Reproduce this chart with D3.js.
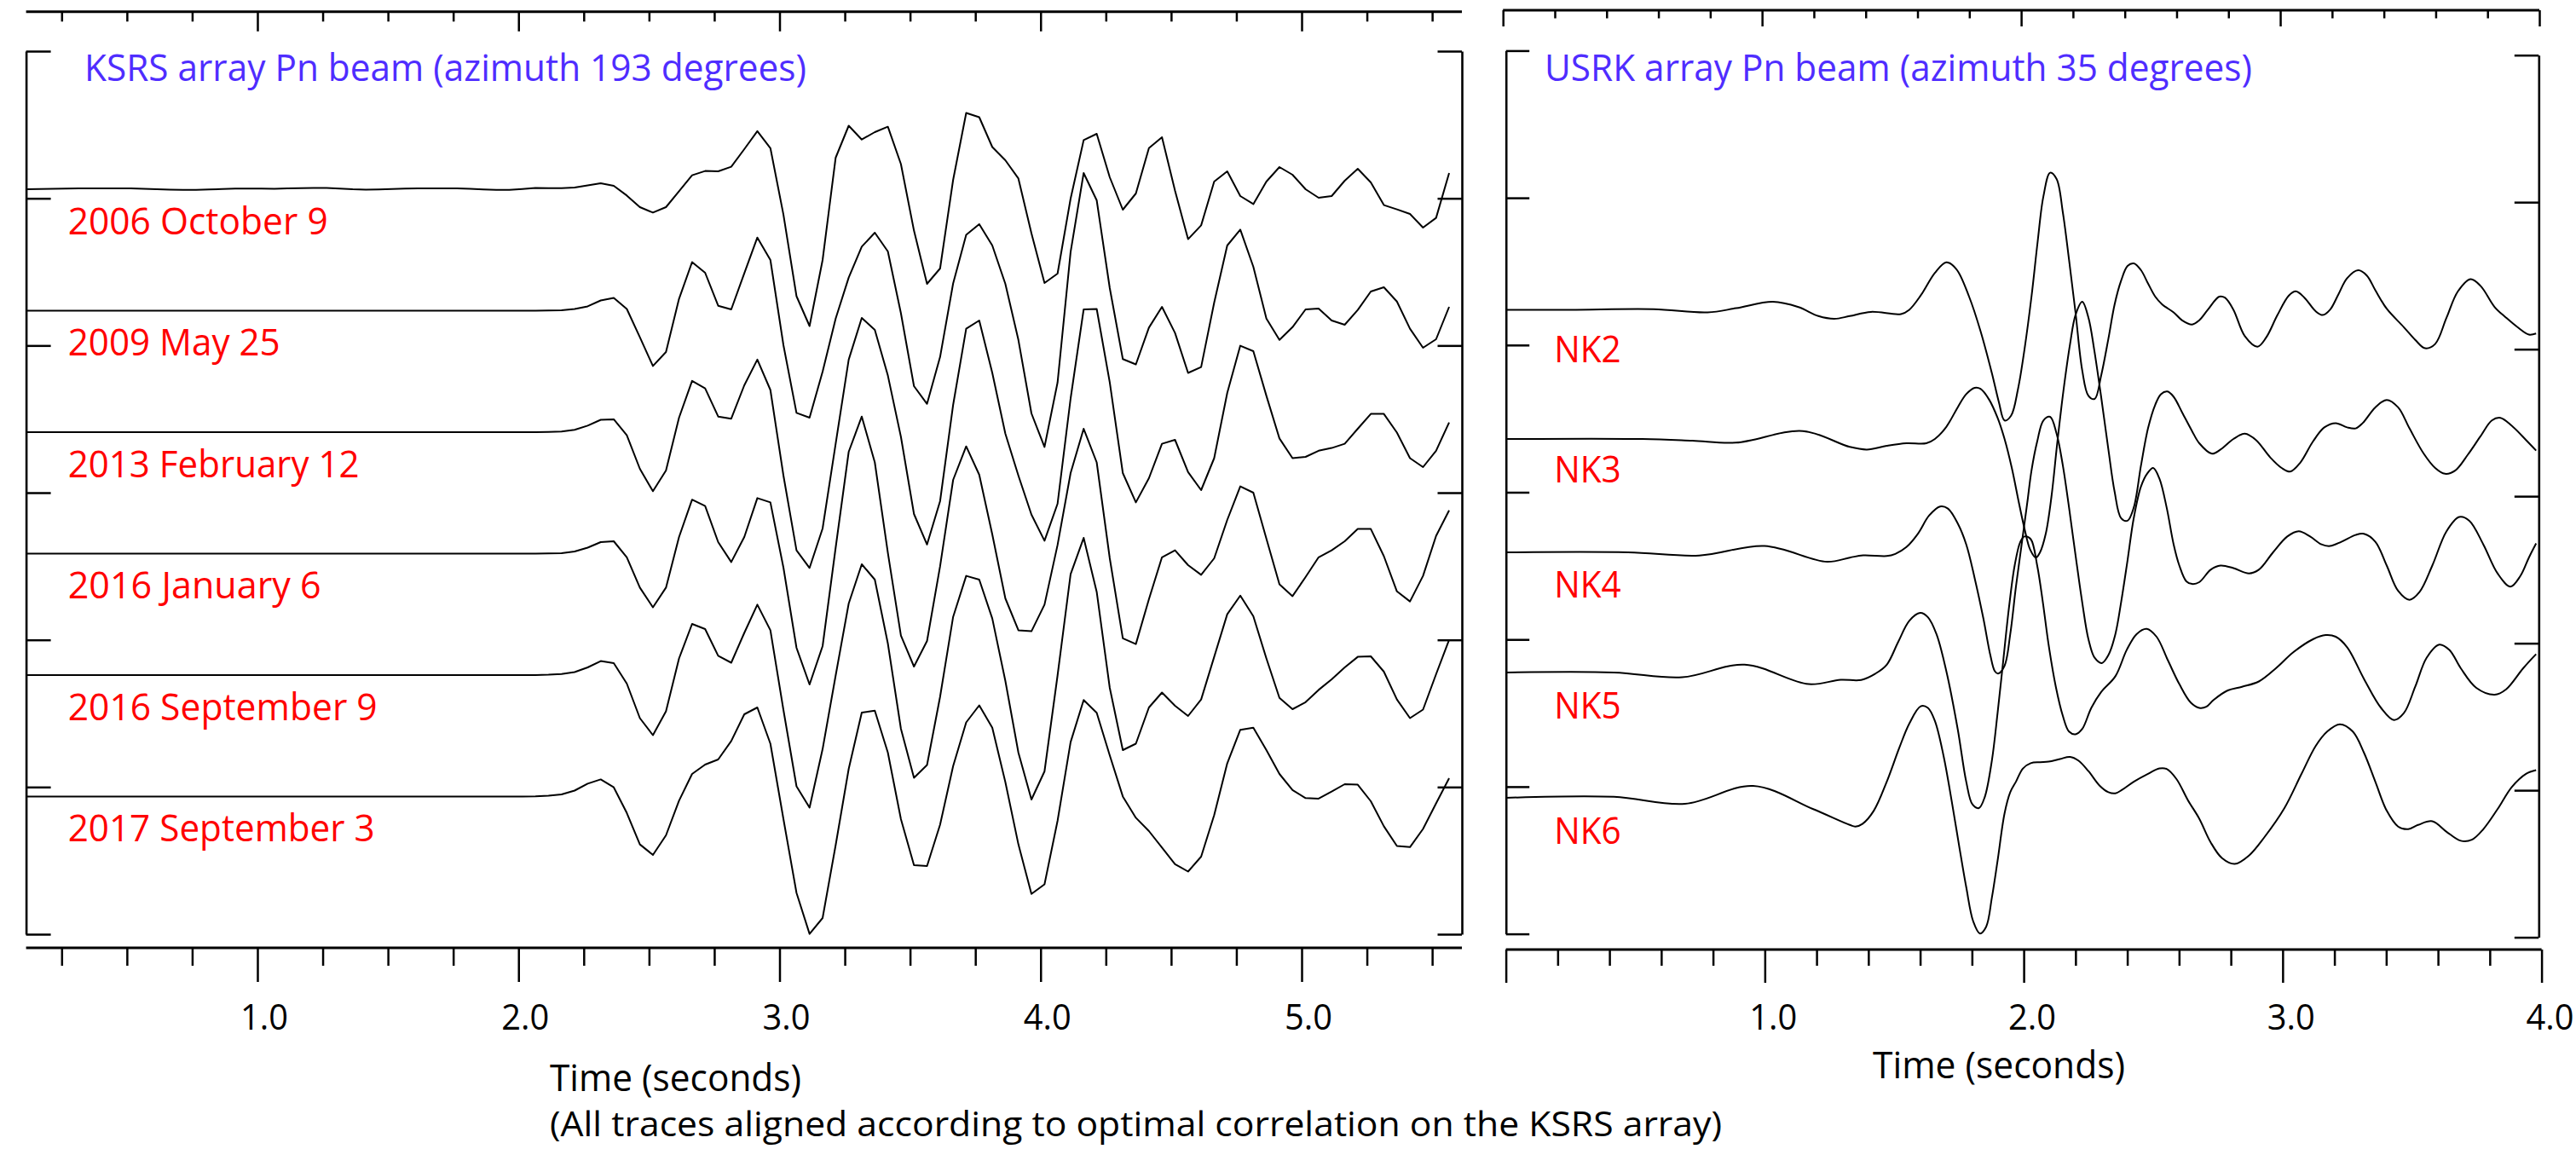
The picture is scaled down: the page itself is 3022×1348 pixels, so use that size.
<!DOCTYPE html>
<html>
<head>
<meta charset="utf-8">
<script src="https://cdn.jsdelivr.net/npm/d3@7"></script>
<style>
  html, body { margin: 0; padding: 0; background: #fff; }
  svg { display: block; }
  text { font-family: "Open Sans", "Noto Sans", sans-serif; }
</style>
</head>
<body>
<svg id="chart" width="3022" height="1348"></svg>
<script>
// ---------------- KSRS array beams (20 samples per second) ----------------
const ksrsEvents = ["2006 October 9", "2009 May 25", "2013 February 12",
                    "2016 January 6", "2016 September 9", "2017 September 3"];
const ksrsT0 = 0.115;   // time of first sample (s)
const ksrsDt = 0.05;    // sample interval (s)

const ksrs2006 = [0,0.3,0.6,0.8,0.9,1.0,1.1,1.1,1.1,0.6, 0,-0.5,-0.8,-0.8,-0.3,0.3,0.7,0.8,0.8,0.6,
  0.9,1.3,1.5,1.5,0.8,0,-0.4,-0.2,0.3,0.7, 1.0,1.1,1.1,1.1,0.5,-0.2,-0.7,-0.8,0.2,1.5, 1.3,1.2,2,
  4.5,7,4,-7.4,-21,-27.4,-21,-2.4,16.4,21.4, 21,26.4,47,68.2,48.2,-29.9,-125.5,-160.5,-83,37,
  74.5,58.3,67,73.3,29.5,-48.6,-111,-93,11,89.5, 84.5,49.5,34,12.6,-51.8,-110,-99,-11,57.6,65,
  14,-24,-5,48.3,61,-1.8,-58.6,-42.4,9,21, -8,-17.4,9,26,17,0,-10,-8,10,24, 8,-18.6,-23.6,-29,-45,-33.6,19];
const ksrs2009 = [0,0,0,0,0,0,0,0,0,0, 0,0,0,0,0,0,0,0,0,0, 0,0,0,0,0,0,0,0,0,0, 0,0,0,0,0,0,0,0,0,0, 0.2,0.5,2,
  5.1,12,15.1,2,-31.1,-64.9,-48.5,13.9,57,44.5, 5.8,1.5,43.9,85.8,59.5,-40.5,-119.9,-125.5,-71.5,-9.3,
  38.9,75.1,91.5,69.5,-3,-88.5,-109.3,-54.3,32,88.9, 101.5,76.5,31.5,-34.3,-120.5,-159.9,-84.3,68.9,161.5,129.5,
  26.5,-56.8,-63,-19.9,4.5,-26.1,-73,-66.1,9.5,76.5, 95.1,51.5,-9.3,-34.3,-19.3,1.5,2.5,-11.5,-16.5,0.8,
  22.5,27.5,10.8,-21.1,-43.5,-33.5,4.5];
const ksrs2013 = [0,0,0,0,0,0,0,0,0,0, 0,0,0,0,0,0,0,0,0,0, 0,0,0,0,0,0,0,0,0,0, 0,0,0,0,0,0,0,0,0,0, 0.3,0.8,2.8,
  7.6,14.5,15.1,-3.6,-43,-69.3,-45,17,60.1,51.4, 18.3,15.8,55,85.1,49.5,-51,-138.6,-159.3,-113,-13.6,
  85.1,134,120,66.4,-5.5,-96,-131.8,-81,32,121.4, 131,69.5,-1.8,-51,-96.8,-127.4,-84,39.5,144,144.5,
  58.3,-48,-82.4,-54,-13.6,-9,-46.8,-68,-30.5,46, 101.4,95,42.6,-7.4,-30.5,-29,-21.8,-18.6,-13.6,4,
  21.4,21.4,-0.5,-30.5,-41,-21.8,11.4];
const ksrs2016a = [0,0,0,0,0,0,0,0,0,0, 0,0,0,0,0,0,0,0,0,0, 0,0,0,0,0,0,0,0,0,0, 0,0,0,0,0,0,0,0,0,0, 0.2,0.6,2.5,
  7,13.5,14.5,-4.3,-39.9,-63,-39.9,19.5,63.3,55.8, 13.5,-9.9,19.5,65.1,60.1,-16.5,-110.5,-153.5,-108.5,7,
  119.5,160.8,107,0.8,-96.1,-132.5,-102.5,-14.9,86.5,125.8, 92.5,22.5,-52.5,-89.9,-91.1,-59.9,10.1,94.5,146.5,107,
  -5.5,-99.3,-106.1,-53.5,-4.3,3.9,-13.5,-24.9,-5.5,39.5, 78.9,71.5,17.5,-36.1,-49.9,-27.5,-4.3,3.9,14.5,28.9,
  28.9,-3,-44.3,-56.1,-26.1,20.8,50.8];
const ksrs2016b = [0,0,0,0,0,0,0,0,0,0, 0,0,0,0,0,0,0,0,0,0, 0,0,0,0,0,0,0,0,0,0, 0,0,0,0,0,0,0,0,0,0, 0.4,1.2,3.5,
  9,16.4,14,-10,-50.5,-70.5,-42.4,19.5,60,54, 22.6,14.5,49.5,82.6,52.6,-41,-130.5,-155.5,-86.8,-0.5,
  84,130,112,37,-63,-120.5,-105.5,-25.5,68.3,116.4, 112,66.4,-6.8,-91,-146,-113,-0.5,118.3,161,97.6,
  -15,-88,-80.5,-38,-20.5,-36,-48,-28.6,21.4,71.4, 93.3,69,19.5,-26.8,-40,-31.8,-17.4,-5,9,21.4,
  22,4,-28.6,-50.5,-40.5,1,41.4];
const ksrs2017 = [0,0,0,0,0,0,0,0,0,0, 0,0,0,0,0,0,0,0,0,0, 0,0,0,0,0,0,0,0,0,0, 0,0,0,0,0,0,0,0,0,0.3, 1,2.5,7,
  15.1,20.1,10.8,-19.3,-56.1,-68.5,-45.5,-4.9,26.5,37.5, 43.5,65.1,96.5,104.5,62,-26.5,-113,-161.1,-142.5,-57,
  32.5,98.5,100.8,51.5,-26.5,-80.5,-81.5,-33,35.8,87, 107,80.8,17,-56.1,-114.3,-103,-28.5,63.9,113.3,98.3,
  48.3,0.1,-24.9,-40.5,-59.9,-79.3,-88,-70.5,-21.8,38.9, 78.3,80.8,54.5,26.5,7.6,-1.8,-2.4,5.8,14.5,13.9,
  -5.5,-34.9,-58,-59.3,-38,-8,21.5];
const ksrsTraces = [ksrs2006, ksrs2009, ksrs2013, ksrs2016a, ksrs2016b, ksrs2017];

const ksrsMajorTicks = [1, 2, 3, 4, 5];
const ksrsTickLabels = ["1.0", "2.0", "3.0", "4.0", "5.0"];

// ---------------- USRK array beams: [time (s), amplitude] ----------------
const usrkStations = ["NK2", "NK3", "NK4", "NK5", "NK6"];
const nk2 = [[0,0],[0.25,0],[0.571,0.7],[0.779,-3],[0.889,1.9],[1.031,9.4],[1.13,3.2],[1.207,-7.3],[1.268,-10.5],
  [1.328,-7.3],[1.41,-2.4],[1.526,-4.9],[1.558,0.1],[1.602,16.8],[1.657,43.4],[1.701,55.8],[1.74,47.7],[1.789,15.5],
  [1.833,-24.7],[1.877,-74.2],[1.904,-108.2],[1.926,-129.8],[1.951,-124.3],[1.978,-92.7],[2.003,-46.3],[2.03,15.5],
  [2.054,80.5],[2.076,133.1],[2.102,160.9],[2.127,153.5],[2.151,114.5],[2.175,58.8],[2.2,-3],[2.226,-71.1],[2.25,-100.8],
  [2.274,-104.5],[2.299,-77.2],[2.327,-33.9],[2.351,6.3],[2.376,34.1],[2.401,51.5],[2.425,54.5],[2.453,46.5],[2.48,31],
  [2.508,15.5],[2.535,6.3],[2.579,-3],[2.612,-12.3],[2.65,-17.2],[2.678,-12.3],[2.711,0.1],[2.755,15.5],[2.777,14.3],
  [2.81,0.1],[2.854,-30.9],[2.903,-43.2],[2.936,-32.7],[2.98,-6.1],[3.024,16.8],[3.051,21.7],[3.084,14.3],[3.128,-1.8],
  [3.155,-6.1],[3.183,0.1],[3.216,18.6],[3.249,37.2],[3.292,46.5],[3.325,40.3],[3.358,23],[3.402,1.3],[3.468,-20.3],
  [3.512,-35.2],[3.55,-45.1],[3.589,-40.1],[3.633,-9.2],[3.677,21.7],[3.726,36],[3.765,27.9],[3.819,3.2],[3.863,-9.2],
  [3.907,-20.3],[3.951,-29],[3.979,-27.8]];
const nk3 = [[0,0],[0.527,0],[0.72,-2],[0.889,-4.3],[1.147,9.3],[1.328,-9.3],[1.394,-12.4],[1.471,-8],[1.547,-5],
  [1.624,-5],[1.657,0],[1.701,14.2],[1.745,37.1],[1.778,52.6],[1.811,60],[1.833,58.8],[1.866,46.4],[1.899,24.8],
  [1.926,0],[1.954,-34],[1.981,-74.2],[2.003,-105.2],[2.025,-129.9],[2.047,-139.2],[2.063,-133],[2.085,-111.3],
  [2.107,-68],[2.129,-6.2],[2.153,55.7],[2.179,111.4],[2.2,145.4],[2.226,160.9],[2.25,142.3],[2.272,105.2],[2.299,49.5],
  [2.327,-12.4],[2.351,-61.8],[2.376,-92.8],[2.401,-95.9],[2.425,-80.4],[2.453,-30.9],[2.48,12.4],[2.508,40.2],
  [2.53,52.6],[2.555,55.7],[2.579,49.5],[2.612,31],[2.65,9.3],[2.678,-5],[2.727,-17.3],[2.76,-12.4],[2.81,0],
  [2.854,6.2],[2.897,-1.2],[2.952,-21.6],[2.996,-34],[3.029,-38.3],[3.068,-27.8],[3.117,-3],[3.161,13.6],[3.205,18.6],
  [3.249,13.6],[3.282,12.4],[3.309,18.6],[3.358,37.1],[3.402,45.8],[3.446,37.1],[3.49,12.4],[3.545,-17.3],[3.589,-34],
  [3.627,-40.8],[3.666,-37.1],[3.715,-18.5],[3.764,3.1],[3.808,21.7],[3.841,24.8],[3.885,15.5],[3.94,-1.2],[3.979,-13.6]];
const nk4 = [[0,0],[0.472,0],[0.747,-3.7],[0.999,7.4],[1.24,-11.1],[1.328,-6.2],[1.38,-3.5],[1.471,-4.3],[1.504,-1.8],
  [1.547,6.2],[1.591,21.7],[1.635,43.3],[1.677,53.8],[1.707,51.4],[1.745,34],[1.778,9.3],[1.811,-30.9],[1.844,-77.3],
  [1.871,-120.6],[1.888,-139.2],[1.901,-142.3],[1.926,-133],[1.948,-95.9],[1.97,-40.2],[1.992,9.3],[2.014,58.8],
  [2.03,95.9],[2.052,129.9],[2.076,154.7],[2.102,159],[2.127,139.2],[2.151,102.1],[2.175,52.6],[2.2,-3.1],[2.226,-58.8],
  [2.25,-102],[2.274,-123.7],[2.302,-129.9],[2.327,-120.6],[2.354,-95.9],[2.376,-58.8],[2.401,-9.3],[2.425,40.2],
  [2.453,77.3],[2.478,92.8],[2.5,99],[2.524,86.6],[2.552,52.6],[2.579,9.3],[2.601,-15.5],[2.628,-34],[2.65,-37.1],
  [2.678,-35],[2.722,-20.4],[2.76,-15.5],[2.81,-18.5],[2.87,-24.7],[2.908,-20.4],[2.963,0],[3.018,18.6],[3.062,24.8],
  [3.106,18.6],[3.15,9.3],[3.183,7.4],[3.227,12.4],[3.282,20.4],[3.314,21.7],[3.358,12.4],[3.402,-15.5],[3.446,-45.2],
  [3.49,-55.7],[3.529,-46.4],[3.578,-15.5],[3.633,24.8],[3.682,41.5],[3.721,37.1],[3.775,9.3],[3.83,-24.7],[3.88,-40.2],
  [3.918,-27.8],[3.951,-6.2],[3.979,10.5]];
const nk5 = [[0,0],[0.417,0],[0.681,-5.6],[0.922,9.2],[1.169,-13.6],[1.293,-8.5],[1.372,-8.7],[1.427,-1.3],[1.471,9.2],
  [1.515,35.8],[1.558,60.6],[1.6,69.9],[1.63,64.9],[1.663,45.1],[1.701,1.8],[1.745,-66.2],[1.778,-128.1],[1.802,-154.7],
  [1.827,-159],[1.849,-146.6],[1.877,-103.3],[1.899,-47.7],[1.921,14.2],[1.943,76.1],[1.965,125.5],[1.987,153.4],
  [2.003,159.6],[2.027,156.5],[2.052,125.5],[2.074,82.2],[2.096,32.8],[2.124,-16.7],[2.151,-50.8],[2.175,-69.3],
  [2.2,-72.4],[2.226,-66.2],[2.261,-41.5],[2.299,-22.9],[2.354,-4.4],[2.398,26.6],[2.436,45.1],[2.475,51.3],[2.513,42],
  [2.557,14.2],[2.601,-13.6],[2.645,-35.3],[2.678,-41.5],[2.705,-40.2],[2.733,-32.2],[2.788,-21],[2.843,-16.7],
  [2.908,-10.5],[2.974,5],[3.04,23.5],[3.117,39],[3.166,43.9],[3.205,42],[3.249,29.7],[3.314,-7.4],[3.38,-41.5],
  [3.43,-55.7],[3.468,-47.7],[3.512,-16.7],[3.556,17.3],[3.605,32.8],[3.644,26.6],[3.688,5],[3.748,-18],[3.819,-26],
  [3.863,-19.8],[3.929,5],[3.979,21.6]];
const nk6 = [[0,0],[0.417,1.2],[0.692,-7],[0.955,14],[1.185,-13],[1.328,-31.8],[1.35,-33.7],[1.377,-30.6],[1.421,-15.1],
  [1.471,18.9],[1.52,59.1],[1.558,87],[1.602,107.4],[1.63,105.5],[1.657,90.1],[1.69,49.8],[1.723,-5.8],[1.75,-55.3],
  [1.778,-104.8],[1.805,-145],[1.831,-159.2],[1.855,-151.2],[1.877,-117.2],[1.899,-73.9],[1.926,-18.2],[1.948,6.6],
  [1.97,18.9],[1.997,34.4],[2.027,40.6],[2.063,41.8],[2.096,42.4],[2.14,45.5],[2.179,48],[2.211,43.7],[2.25,31.3],
  [2.294,14],[2.327,6.6],[2.354,5.3],[2.381,9.6],[2.425,18.9],[2.48,28.2],[2.524,34.4],[2.552,33.8],[2.59,22],
  [2.634,-2.7],[2.678,-24.4],[2.722,-52.2],[2.766,-70.8],[2.815,-77.6],[2.87,-67.7],[2.93,-46],[3.007,-12],[3.073,28.2],
  [3.128,61],[3.172,77.7],[3.221,86.3],[3.271,77.7],[3.314,53],[3.358,18.9],[3.402,-15.1],[3.446,-33.7],[3.485,-36.8],
  [3.523,-31.8],[3.578,-27.5],[3.633,-39.8],[3.688,-50.4],[3.731,-49.1],[3.775,-36.8],[3.83,-13.3],[3.885,12.7],
  [3.94,28.2],[3.979,32.5]];
const usrkTraces = [nk2, nk3, nk4, nk5, nk6];

const usrkMajorTicks = [0, 1, 2, 3, 4];
const usrkTickLabels = ["", "1.0", "2.0", "3.0", "4.0"];

// ---------------- drawing ----------------
const svg = d3.select("#chart");
const TITLE_BLUE = "#4f2dff";
const LABEL_RED = "#ff0000";
const traceWidth = 2.0;

// amplitude units map one-to-one onto pixels above/below each trace's rest line
const amp = d3.scaleLinear().domain([-100, 100]).range([100, -100]);

function addText(g, str, x, y, size, fill, width, anchor) {
  const t = g.append("text")
    .attr("x", x).attr("y", y)
    .attr("font-size", size)
    .attr("fill", fill)
    .attr("text-anchor", anchor || "start")
    .text(str);
  if (width) t.attr("textLength", width).attr("lengthAdjust", "spacingAndGlyphs");
  return t;
}

function styleAxis(g, lineW, tickW) {
  g.selectAll("path.domain").attr("stroke", "#000").attr("stroke-width", lineW);
  g.selectAll(".tick line").attr("stroke", "#000").attr("stroke-width", tickW);
  g.selectAll(".tick text").remove();
}

// horizontal time axis: minor and major ticks hanging below a solid rule
function timeAxis(g, scale, y, x0, x1, minor, major, minorLen, majorLen) {
  const a = g.append("g").attr("transform", `translate(0,${y})`);
  const mk = (vals, len) => {
    const s = a.append("g").call(
      d3.axisBottom(scale).tickValues(vals).tickSize(len).tickSizeOuter(0).tickFormat(""));
    s.select("path.domain").remove();
    s.selectAll(".tick line").attr("stroke", "#000").attr("stroke-width", 2.5);
  };
  mk(minor, minorLen);
  mk(major, majorLen);
  a.append("line").attr("x1", x0).attr("x2", x1).attr("y1", 0).attr("y2", 0)
    .attr("stroke", "#000").attr("stroke-width", 3);
  return a;
}

// vertical frame side with unlabeled inward ticks
function frameSide(g, x, yScale, len, left) {
  const ax = (left ? d3.axisRight(yScale) : d3.axisLeft(yScale))
    .tickValues(d3.range(0, 7)).tickSize(len).tickSizeOuter(0).tickFormat("");
  const s = g.append("g").attr("transform", `translate(${x},0)`).call(ax);
  styleAxis(s, 2.6, 2.5);
}

// ===== left panel: KSRS =====
const xL = d3.scaleLinear().domain([1, 5]).range([302, 1527]);
const rowL = d3.scalePoint().domain(ksrsEvents).range([222, 934.5]);
const gL = svg.append("g");

const ksrsMinor = d3.range(1, 23).map(k => k * 0.25).filter(v => !Number.isInteger(v));
timeAxis(gL, xL, 1112, 30.6, 1715, ksrsMinor, ksrsMajorTicks, 21, 40);
timeAxis(gL, xL, 13.8, 30.6, 1715, ksrsMinor, ksrsMajorTicks, 11.5, 23);

const yFrameL = d3.scaleLinear().domain([0, 6]).range([1096, 60]);
frameSide(gL, 30.6, yFrameL, 29, true);
frameSide(gL, 1715, yFrameL, 28.5, false);

ksrsEvents.forEach((name, k) => {
  const line = d3.line()
    .x((d, i) => xL(ksrsT0 + i * ksrsDt))
    .y(d => rowL(name) + amp(d));
  gL.append("path").datum(ksrsTraces[k])
    .attr("d", line)
    .attr("fill", "none").attr("stroke", "#000")
    .attr("stroke-width", traceWidth).attr("stroke-linejoin", "round");
});

const ksrsLabelWidths = [305, 249, 342, 297, 363, 360];
ksrsEvents.forEach((name, k) => {
  addText(gL, name, 79.7, rowL(name) + 52.5, 44, LABEL_RED, ksrsLabelWidths[k]);
});

addText(gL, "KSRS array Pn beam (azimuth 193 degrees)", 99, 95, 44, TITLE_BLUE, 847);

ksrsMajorTicks.forEach((v, k) => {
  addText(gL, ksrsTickLabels[k], xL(v) + 8, 1208, 42, "#000", 56, "middle");
});
addText(gL, "Time (seconds)", 645, 1280, 44, "#000", 295);
addText(gL, "(All traces aligned according to optimal correlation on the KSRS array)", 645, 1333, 41, "#000", 1375);

// ===== right panel: USRK =====
const xR = d3.scaleLinear().domain([0, 4]).range([1766.6, 2981.6]);
const xRtop = d3.scaleLinear().domain([0, 4]).range([1763.2, 2979]);
const rowR = d3.scaleOrdinal().domain(usrkStations).range([363.5, 515, 648, 789, 936]);
const labelR = d3.scaleOrdinal().domain(usrkStations).range([425, 566, 701, 843, 990]);
const gR = svg.append("g");

const usrkMinor = d3.range(1, 20).map(k => k * 0.2).filter(v => Math.abs(v - Math.round(v)) > 1e-6);
timeAxis(gR, xR, 1114, 1766.6, 2981.6, usrkMinor, usrkMajorTicks, 19, 39);
timeAxis(gR, xRtop, 12, 1763.2, 2979, usrkMinor, usrkMajorTicks, 9.5, 19);

frameSide(gR, 1766.7, d3.scaleLinear().domain([0, 6]).range([1095.6, 59.4]), 27.5, true);
frameSide(gR, 2978.3, d3.scaleLinear().domain([0, 6]).range([1099.6, 64.7]), 28.5, false);

usrkStations.forEach((name, k) => {
  const line = d3.line()
    .x(d => xR(d[0]))
    .y(d => rowR(name) + amp(d[1]))
    .curve(d3.curveCatmullRom.alpha(0.5));
  gR.append("path").datum(usrkTraces[k])
    .attr("d", line)
    .attr("fill", "none").attr("stroke", "#000")
    .attr("stroke-width", traceWidth).attr("stroke-linejoin", "round");
  addText(gR, name, 1823.3, labelR(name), 44, LABEL_RED, 78.5);
});

addText(gR, "USRK array Pn beam (azimuth 35 degrees)", 1812, 94.6, 44, TITLE_BLUE, 830);

usrkMajorTicks.forEach((v, k) => {
  if (usrkTickLabels[k]) addText(gR, usrkTickLabels[k], xR(v) + 10, 1208, 42, "#000", 56, "middle");
});
addText(gR, "Time (seconds)", 2197, 1265, 44, "#000", 296);
</script>
</body>
</html>
